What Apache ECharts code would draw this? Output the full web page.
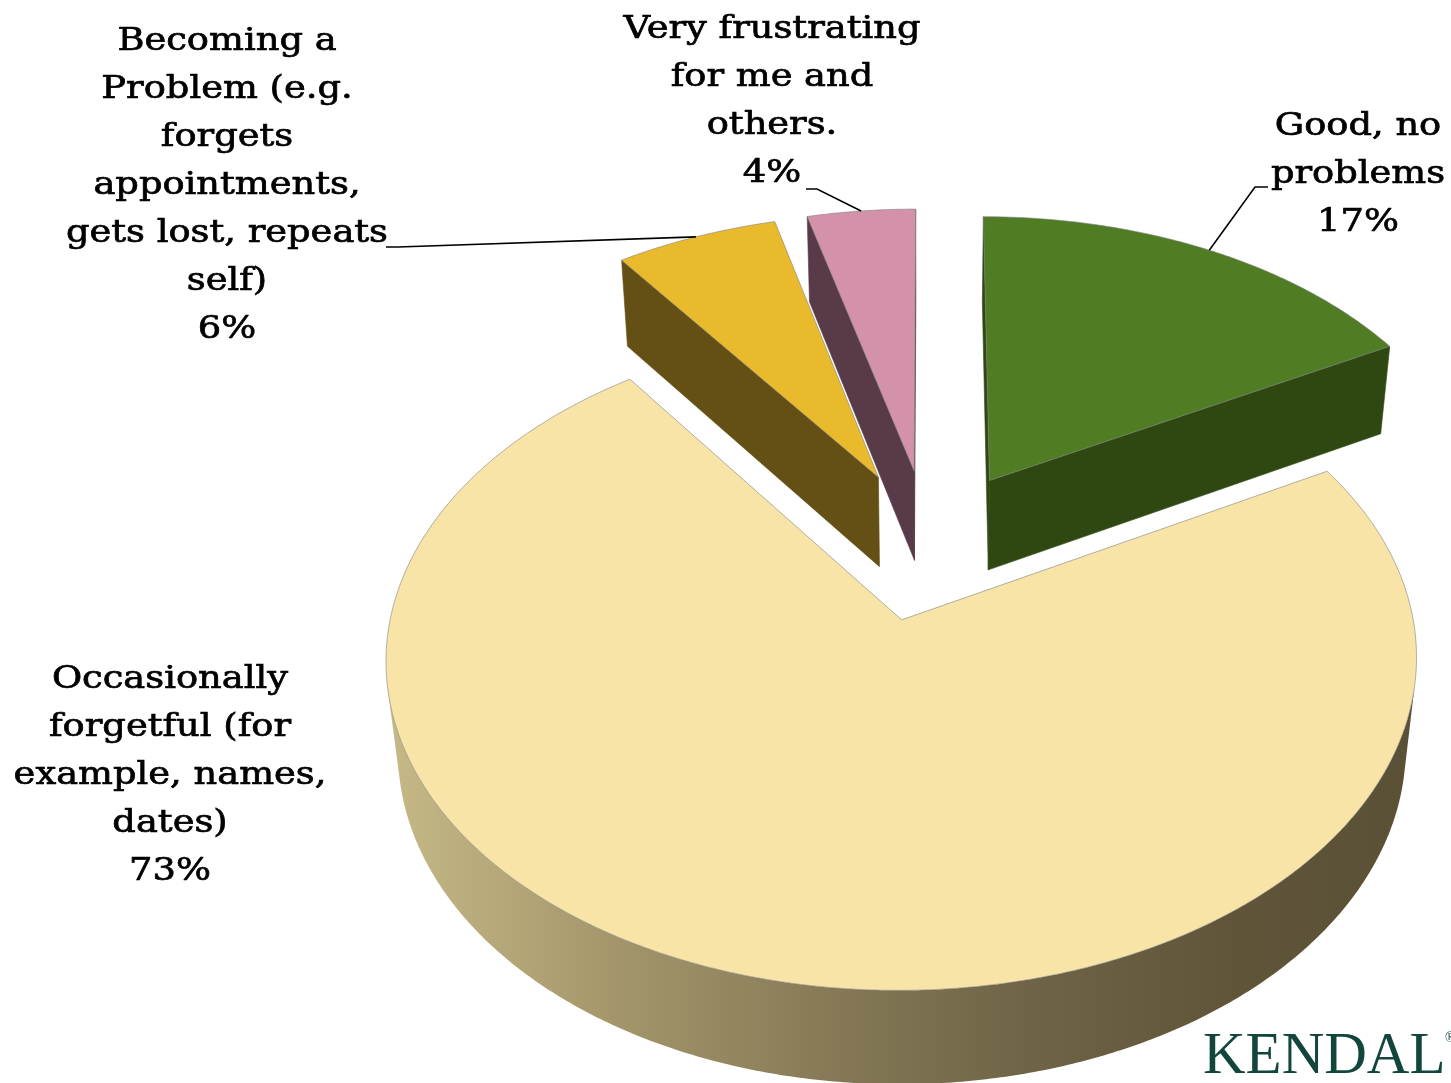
<!DOCTYPE html>
<html><head><meta charset="utf-8">
<script src="https://cdn.jsdelivr.net/npm/echarts@6/dist/echarts.min.js"></script>
<style>html,body{margin:0;padding:0;background:#fff}#chart{width:1451px;height:1083px}</style>
</head><body><div id="chart"></div>
<script>
// ---- data ----
const categories = [
  'Good, no\nproblems',
  'Occasionally\nforgetful (for\nexample, names,\ndates)',
  'Becoming a\nProblem (e.g.\nforgets\nappointments,\ngets lost, repeats\nself)',
  'Very frustrating\nfor me and\nothers.'
];
const values = [17, 73, 6, 4];

// ---- style ----
const topColors = ['#507C24', '#F8E4A6', '#E9BA2C', '#D492AA'];
const sideColors = ['#2F4812', '#6E6345', '#645014', '#583A48'];
const wallFill = [
  '#2F4812',
  {type:'linear', x:0, y:0, x2:1, y2:0, colorStops:[
    {offset:0, color:'#C6B987'}, {offset:0.22, color:'#A4966A'}, {offset:0.45, color:'#837755'},
    {offset:0.62, color:'#6F6446'}, {offset:0.82, color:'#605539'}, {offset:1, color:'#5A5035'}]},
  '#645014',
  '#583A48'
];
const labelLayout = [
  {x:1358, y:103, line:[[1268,187],[1255,187]]},
  {x:170, y:656, line:null},
  {x:227, y:18, line:[[386,247],[398,247]]},
  {x:772, y:6, line:[[806,189],[817,189]]}
];
const V = {cx:929, cy:544, F:3357, D:6.75, tilt:Math.asin(0.62), h:0.236, explode:0.245};

// ---- 3D projection ----
const sT = Math.sin(V.tilt), cT = Math.cos(V.tilt);
const cam = {X:0, Y:V.D*sT, Z:-V.D*cT};
function project(X, Y, Z) {
  const yc = Y*cT + Z*sT, zc = Z*cT - Y*sT;
  const k = V.F/(V.D + zc);
  return [V.cx + X*k, V.cy - yc*k];
}
const total = values.reduce((a,b)=>a+b, 0);
const slices = [];
let acc = 0;
values.forEach(v => {
  const a0 = acc/total*2*Math.PI; acc += v;
  const a1 = acc/total*2*Math.PI; const m = (a0+a1)/2;
  slices.push({a0, a1, m, ox:V.explode*Math.sin(m), oz:V.explode*Math.cos(m)});
});
function rimPt(s, t, Y) { return project(s.ox + Math.sin(t), Y, s.oz + Math.cos(t)); }
const depth = slices.map(s => (s.oz + 0.5*Math.cos(s.m))*cT);
const order = depth.map((d,i)=>i).sort((a,b)=>depth[b]-depth[a]);
const rank = []; order.forEach((idx,r)=>{ rank[idx] = r; });

function renderItem(params, api) {
  const i = params.dataIndex, s = slices[i], base = rank[i]*10;
  const children = [];
  const n = Math.max(2, Math.ceil((s.a1 - s.a0)/(Math.PI/360)));
  const ts = []; for (let k=0;k<=n;k++) ts.push(s.a0 + (s.a1-s.a0)*k/n);
  const Yb = -V.h;
  const vis = t => -(s.ox+Math.sin(t))*Math.sin(t) + (cam.Z-(s.oz+Math.cos(t)))*Math.cos(t) > 0;
  let run = [];
  const flush = () => {
    if (run.length > 1) {
      const pts = run.map(t=>rimPt(s,t,0)).concat(run.slice().reverse().map(t=>rimPt(s,t,Yb)));
      children.push({type:'polygon', z2:base, shape:{points:pts}, style:{fill:wallFill[i], stroke:null}});
    }
    run = [];
  };
  for (let k=0;k<n;k++) {
    const tm = (ts[k]+ts[k+1])/2;
    if (vis(tm)) { if (!run.length) run.push(ts[k]); run.push(ts[k+1]); } else flush();
  }
  flush();
  const O0 = project(s.ox,0,s.oz), O1 = project(s.ox,Yb,s.oz);
  const cutFace = t => ({type:'polygon', z2:base+1,
    shape:{points:[O0, rimPt(s,t,0), rimPt(s,t,Yb), O1]},
    style:{fill:sideColors[i], stroke:sideColors[i], lineWidth:0.6}});
  if (-Math.cos(s.a0)*(cam.X-s.ox) + Math.sin(s.a0)*(cam.Z-s.oz) > 0) children.push(cutFace(s.a0));
  if (Math.cos(s.a1)*(cam.X-s.ox) - Math.sin(s.a1)*(cam.Z-s.oz) > 0) children.push(cutFace(s.a1));
  const top = [O0].concat(ts.map(t=>rimPt(s,t,0)));
  children.push({type:'polygon', z2:base+2, shape:{points:top},
    style:{fill:topColors[i], stroke:'rgba(130,130,130,0.6)', lineWidth:1, lineJoin:'round'}});
  return {type:'group', children};
}

const graphics = [];
slices.forEach((s,i) => {
  const L = labelLayout[i];
  graphics.push({type:'text', x:L.x, y:L.y, scaleX:1.15, z:10,
    style:{text:categories[i]+'\n'+values[i]+'%', x:0, y:0, align:'center', verticalAlign:'top',
      fontFamily:'DejaVu Serif', fontSize:32, lineHeight:48, fill:'#000', stroke:'#000', lineWidth:0.7}});
  if (L.line) {
    const a = rimPt(s, s.m, 0);
    graphics.push({type:'polyline', z:10, shape:{points:L.line.concat([a])},
      style:{stroke:'#000', lineWidth:1.6, fill:null}});
  }
});
graphics.push({type:'text', x:1203, y:1057, z:10, style:{text:'KENDAL', fontFamily:'Liberation Serif',
  fontSize:59, fill:'#12463C', align:'left', verticalAlign:'middle'}});
graphics.push({type:'text', x:1445, y:1038, z:10, style:{text:'®', fontFamily:'Liberation Serif',
  fontSize:14, fill:'#12463C', align:'left', verticalAlign:'middle'}});

const chart = echarts.init(document.getElementById('chart'));
chart.setOption({
  animation:false,
  backgroundColor:'#fff',
  series:[{type:'custom', coordinateSystem:'none', silent:true, renderItem,
    data: values.map((v,i)=>({name:categories[i], value:v}))}],
  graphic:{elements:graphics}
});
</script></body></html>
